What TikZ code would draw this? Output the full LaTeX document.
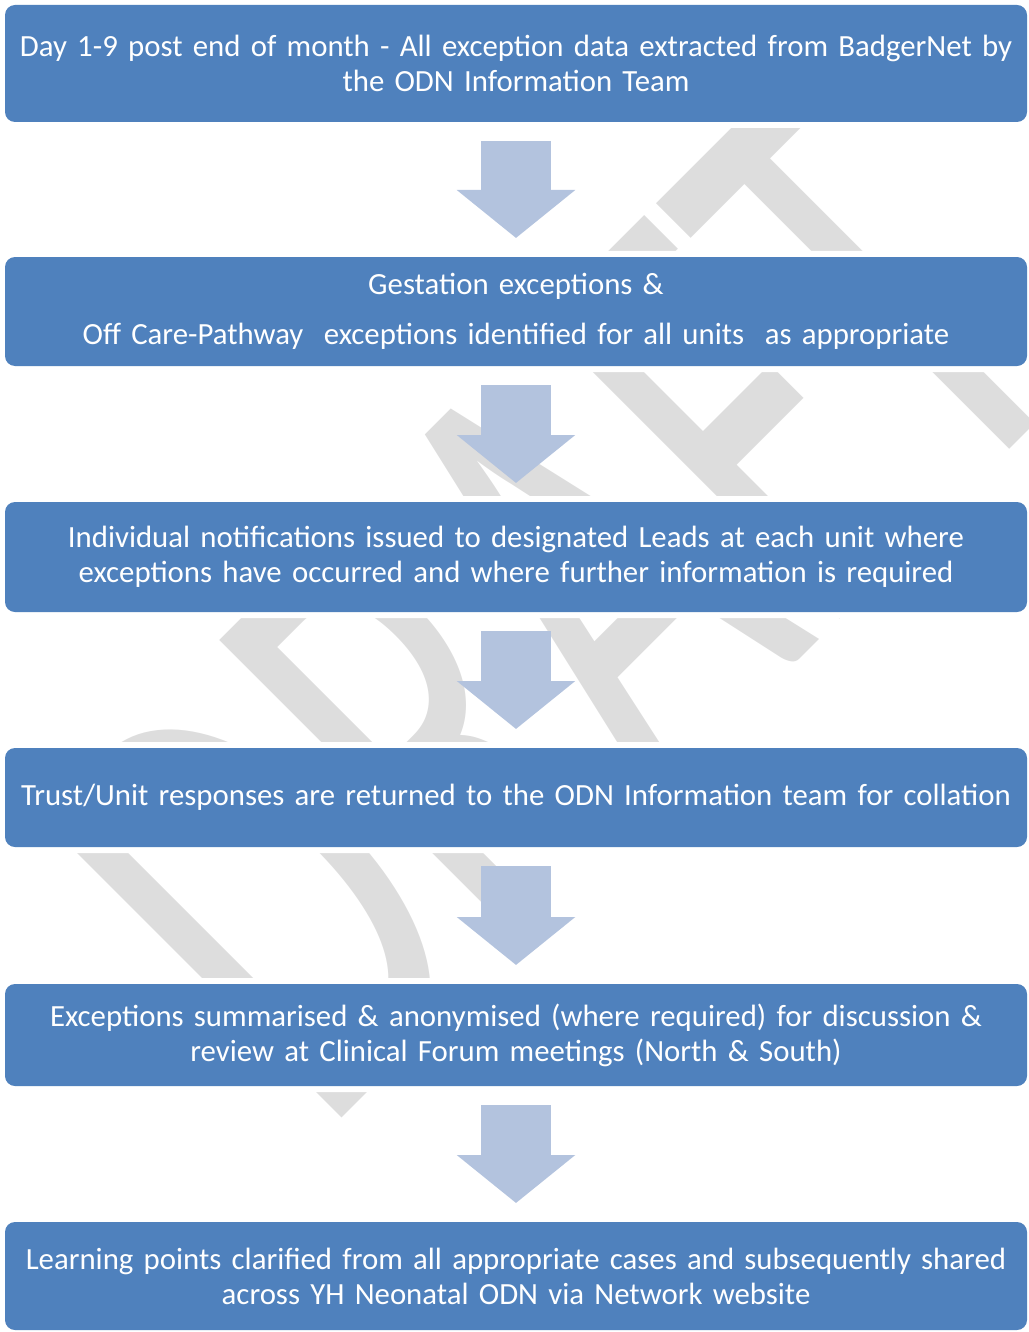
\documentclass[tikz,border=0pt]{standalone}
\usepackage{fontspec}
\setmainfont{Carlito}
\usetikzlibrary{arrows.meta}
\definecolor{boxblue}{RGB}{79,129,189}
\definecolor{arrowblue}{RGB}{179,195,222}
\definecolor{markgray}{RGB}{221,221,221}
\tikzset{
  stepbox/.style={fill=boxblue, text=white, rounded corners=5pt, minimum width=511pt,
    text width=510pt, align=center, inner sep=0pt, outer sep=0pt,
    font=\fontsize{15.4}{17.5}\selectfont, preaction={draw=white, line width=6pt}},
  flow/.style={draw=arrowblue, line width=35pt, -{Triangle[length=24pt,width=58pt]},
    shorten <=9.5pt, shorten >=9.5pt}
}
\begin{document}
\begin{tikzpicture}[x=0.5pt,y=0.5pt]
    \useasboundingbox (0,0) rectangle (1028,-1332);
    \node[markgray, font=\fontsize{330}{330}\selectfont, anchor=base, inner sep=0pt, rotate=45, xscale=0.615] (draftmark) at (707.5,-752) {DRAFT};
    \node[stepbox, minimum height=58.5pt] (extract) at (516,-63.5) {Day 1-9 post end of month - All exception data extracted from BadgerNet by\\ the ODN Information Team};
    \node[stepbox, minimum height=54.5pt] (identify) at (516,-311.5) {Gestation exceptions \&\\[7.5pt] Off Care-Pathway \ exceptions identified for all units \ as appropriate};
    \node[stepbox, minimum height=55pt] (notify) at (516,-557) {Individual notifications issued to designated Leads at each unit where\\ exceptions have occurred and where further information is required};
    \node[stepbox, minimum height=49.5pt] (respond) at (516,-797.5) {Trust/Unit responses are returned to the ODN Information team for collation};
    \node[stepbox, minimum height=51pt] (summarise) at (516,-1035) {Exceptions summarised \& anonymised (where required) for discussion \&\\ review at Clinical Forum meetings (North \& South)};
    \node[stepbox, minimum height=54pt] (share) at (516,-1276) {Learning points clarified from all appropriate cases and subsequently shared\\ across YH Neonatal ODN via Network website};
    \draw[flow] (extract) -- (identify);
    \draw[flow] (identify) -- (notify);
    \draw[flow] (notify) -- (respond);
    \draw[flow] (respond) -- (summarise);
    \draw[flow] (summarise) -- (share);
\end{tikzpicture}
\end{document}
